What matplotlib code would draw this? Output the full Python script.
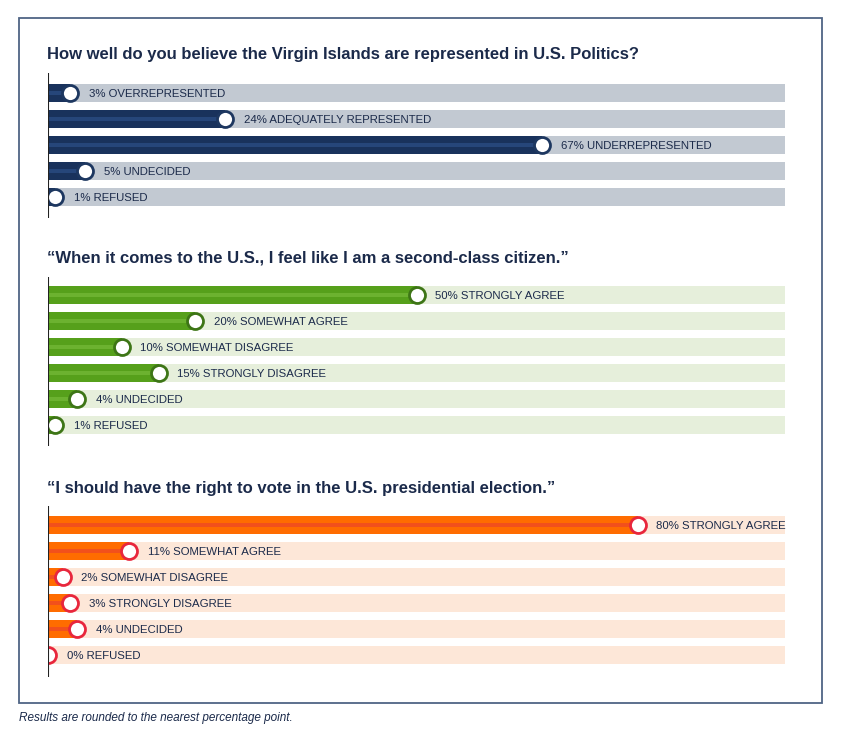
import matplotlib
matplotlib.use("Agg")
import matplotlib.pyplot as plt
from matplotlib.patches import Rectangle

W, H = 841, 740

# ---- data ----
q1_title = "How well do you believe the Virgin Islands are represented in U.S. Politics?"
q1_labels = ["OVERREPRESENTED", "ADEQUATELY REPRESENTED", "UNDERREPRESENTED", "UNDECIDED", "REFUSED"]
q1_values = [3, 24, 67, 5, 1]

q2_title = "\u201cWhen it comes to the U.S., I feel like I am a second-class citizen.\u201d"
q2_labels = ["STRONGLY AGREE", "SOMEWHAT AGREE", "SOMEWHAT DISAGREE", "STRONGLY DISAGREE", "UNDECIDED", "REFUSED"]
q2_values = [50, 20, 10, 15, 4, 1]

q3_title = "\u201cI should have the right to vote in the U.S. presidential election.\u201d"
q3_labels = ["STRONGLY AGREE", "SOMEWHAT AGREE", "SOMEWHAT DISAGREE", "STRONGLY DISAGREE", "UNDECIDED", "REFUSED"]
q3_values = [80, 11, 2, 3, 4, 0]

footer = "Results are rounded to the nearest percentage point."

TXT = "#1b2a4a"
FONT = ["Liberation Sans", "DejaVu Sans"]

fig = plt.figure(figsize=(W / 100, H / 100), dpi=100)
fig.patch.set_facecolor("white")


def px_axes(x0, y0, x1, y1):
    # pixel box (top-left origin) -> figure axes
    return fig.add_axes([x0 / W, 1 - y1 / H, (x1 - x0) / W, (y1 - y0) / H])


def panel(title, title_y, labels, values, first_row_y, line_top, line_bot,
          bar_col, stripe_col, track_col, knob_edge):
    fig.text(47 / W, 1 - title_y / H, title, fontsize=12, fontweight="bold",
             color=TXT, family=FONT, va="center", ha="left")
    n = len(values)
    step = 26
    ax = px_axes(48, line_top, 785, line_bot)
    top = -(first_row_y - line_top) / step
    bot = top + (line_bot - line_top) / step
    ax.set_xlim(0, 100)
    ax.set_ylim(bot, top)
    ax.axis("off")
    rows = list(range(n))
    ax.barh(rows, [100] * n, height=0.66, color=track_col, zorder=1)
    ax.barh(rows, values, height=0.66, color=bar_col, zorder=2)
    ax.barh(rows, values, height=0.12, color=stripe_col, zorder=3)
    ax.plot(values, rows, "o", ms=11.5, mfc="white", mec=knob_edge, mew=2.0, zorder=4)
    for r, v, lab in zip(rows, values, labels):
        ax.annotate(f"{v}% {lab}", (v, r), xytext=(13.5, -0.7), textcoords="offset points",
                    va="center", ha="left", fontsize=8.2, color=TXT, family=FONT, zorder=5)
    ax.axvline(0, color="#222222", lw=1.5, zorder=6)


panel(q1_title, 55, q1_labels, q1_values, 93, 73, 218,
      "#19325c", "#26467a", "#c2c9d2", "#1d3760")
panel(q2_title, 258, q2_labels, q2_values, 295, 277, 446,
      "#56a01b", "#6cb230", "#e6efdb", "#3d7516")
panel(q3_title, 489, q3_labels, q3_values, 525, 506, 677,
      "#ff6c00", "#f2501c", "#fde7d8", "#e8263c")

# frame
frame = px_axes(0, 0, W, H)
frame.set_xlim(0, W)
frame.set_ylim(H, 0)
frame.axis("off")
frame.set_zorder(-1)
frame.add_patch(Rectangle((19, 18), 803, 685, fill=False, ec="#4f6485", lw=1.3))

fig.text(19 / W, 1 - 718 / H, footer, fontsize=8.5, style="italic", color=TXT,
         family=FONT, va="center", ha="left")

fig.savefig("out.png", dpi=100)
